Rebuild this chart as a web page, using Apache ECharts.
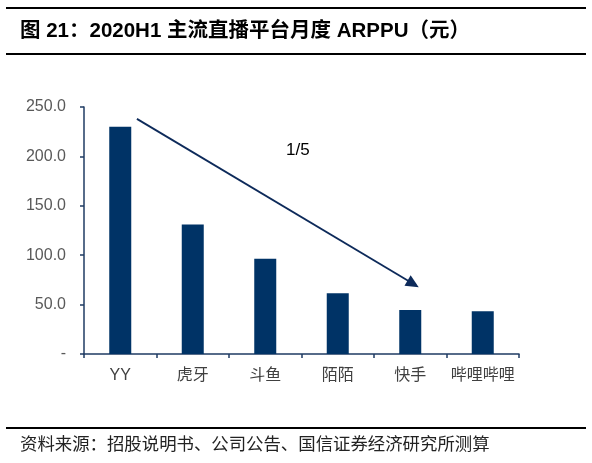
<!DOCTYPE html>
<html>
<head>
<meta charset="utf-8">
<script src="https://cdn.jsdelivr.net/npm/echarts@6/dist/echarts.min.js"></script>
<style>
html,body{margin:0;padding:0;background:#fff;}
#main{width:592px;height:463px;}
</style>
</head>
<body>
<div id="main"></div>
<script>
// Data
var categories = ['YY', '虎牙', '斗鱼', '陌陌', '快手', '哔哩哔哩'];
var arppu = [230, 131, 96.5, 61.5, 44.5, 43.2];
var yTicks = [0, 50, 100, 150, 200, 250];
// Trend arrow annotation (x in category-index units, y in value units)
var arrowStart = [0.23, 238];
var arrowEnd = [4.04, 71];
var arrowLabel = '1/5';

var titleText = '图 21：2020H1 主流直播平台月度 ARPPU（元）';
var sourceText = '资料来源：招股说明书、公司公告、国信证券经济研究所测算';

var chart = echarts.init(document.getElementById('main'), null, {renderer: 'canvas'});
var navy = '#003366';
var latin = 'Arial, "Liberation Sans", "Noto Sans CJK SC", sans-serif';
var cjk = '"Noto Sans CJK SC", sans-serif';

var option = {
  backgroundColor: '#fff',
  animation: false,
  grid: {left: 84, right: 73, top: 107, bottom: 109},
  xAxis: [{
    type: 'category',
    data: categories,
    boundaryGap: true,
    axisLine: {onZero: false, lineStyle: {color: '#1f3b63', width: 1.5}},
    axisTick: {show: true, length: 4, lineStyle: {color: '#1f3b63', width: 1.5}},
    axisLabel: {
      interval: 0,
      margin: 14,
      fontSize: 16,
      color: '#404040',
      fontFamily: latin
    }
  }, {
    type: 'value',
    min: -0.5,
    max: categories.length - 0.5,
    show: false
  }],
  yAxis: {
    type: 'value',
    min: yTicks[0],
    max: yTicks[yTicks.length - 1],
    interval: 50,
    axisLine: {show: true, onZero: false, lineStyle: {color: '#1f3b63', width: 1.5}},
    axisTick: {show: true, length: 4, lineStyle: {color: '#1f3b63', width: 1.5}},
    splitLine: {show: false},
    axisLabel: {
      margin: 18,
      fontSize: 16,
      color: '#595959',
      fontFamily: latin,
      formatter: function (v) { return v === 0 ? '-' : v.toFixed(1); }
    }
  },
  series: [{
    type: 'bar',
    data: arppu,
    barWidth: 22,
    itemStyle: {color: navy}
  }, {
    type: 'line',
    xAxisIndex: 1,
    data: [],
    silent: true,
    markLine: {
      silent: true,
      symbol: ['none', 'triangle'],
      symbolSize: [12, 13],
      label: {show: false},
      lineStyle: {color: '#0d2a5a', width: 1.8, type: 'solid'},
      data: [[{coord: arrowStart}, {coord: arrowEnd}]]
    }
  }],
  graphic: [
    {type: 'rect', shape: {x: 6, y: 7, width: 580, height: 2}, style: {fill: '#000'}},
    {type: 'text', left: 20, top: 21, style: {text: titleText, font: 'bold 20.5px ' + latin, fill: '#000'}},
    {type: 'rect', shape: {x: 6, y: 53, width: 580, height: 2}, style: {fill: '#000'}},
    {type: 'text', left: 286, top: 142, style: {text: arrowLabel, font: '17px ' + latin, fill: '#000'}},
    {type: 'rect', shape: {x: 6, y: 427, width: 580, height: 2}, style: {fill: '#000'}},
    {type: 'text', left: 20, top: 435, style: {text: sourceText, font: '17.4px ' + cjk, fill: '#222'}}
  ]
};
chart.setOption(option);
</script>
</body>
</html>
